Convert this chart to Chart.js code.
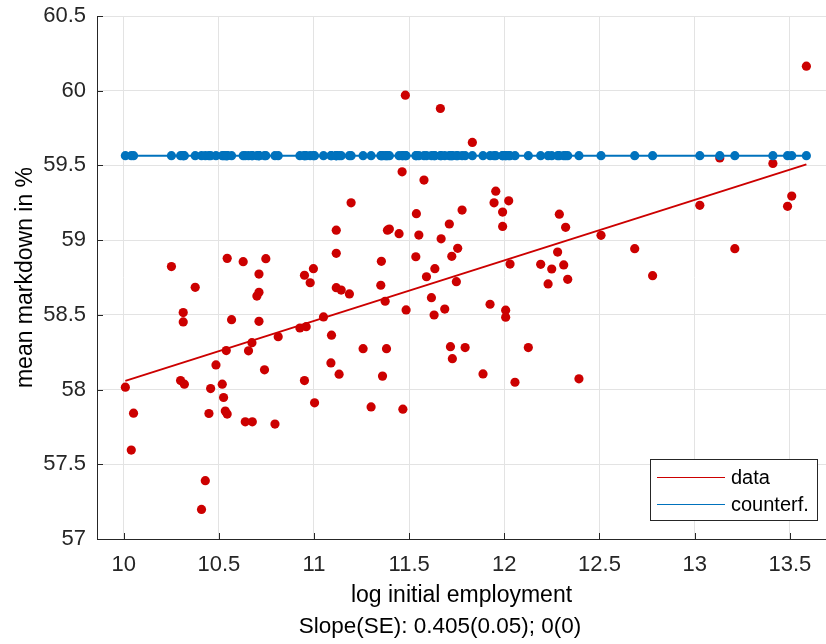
<!DOCTYPE html>
<html>
<head>
<meta charset="utf-8">
<script src="https://cdn.jsdelivr.net/npm/chart.js@4.4.1/dist/chart.umd.min.js"></script>
<style>
  html, body { margin: 0; padding: 0; background: #ffffff; }
  #wrap { width: 826px; height: 644px; }
</style>
</head>
<body>
<div id="wrap"><canvas id="c" width="826" height="644"></canvas></div>
<script>
// ---- data ----
const employment = [
  10.009, 10.040, 10.052, 10.251, 10.299, 10.313, 10.313, 10.319, 10.376, 10.409,
  10.429, 10.448, 10.457, 10.485, 10.518, 10.525, 10.534, 10.539, 10.544, 10.544,
  10.567, 10.628, 10.639, 10.656, 10.674, 10.676, 10.700, 10.711, 10.711, 10.711,
  10.740, 10.747, 10.795, 10.812, 10.926, 10.950, 10.950, 10.959, 10.980, 10.997,
  11.003, 11.050, 11.089, 11.092, 11.117, 11.117, 11.117, 11.132, 11.143, 11.186,
  11.195, 11.258, 11.300, 11.351, 11.354, 11.360, 11.374, 11.381, 11.386, 11.396,
  11.447, 11.463, 11.467, 11.480, 11.484, 11.535, 11.538, 11.551, 11.578, 11.591,
  11.617, 11.631, 11.635, 11.664, 11.668, 11.687, 11.711, 11.717, 11.724, 11.727,
  11.748, 11.755, 11.778, 11.794, 11.832, 11.888, 11.925, 11.946, 11.955, 11.991,
  11.991, 12.007, 12.007, 12.023, 12.030, 12.056, 12.126, 12.191, 12.230, 12.249,
  12.280, 12.289, 12.312, 12.322, 12.333, 12.392, 12.508, 12.685, 12.779, 13.027,
  13.132, 13.211, 13.411, 13.488, 13.510, 13.587
];
const markdown = [
  58.016, 57.595, 57.842, 58.823, 58.060, 58.515, 58.453, 58.036, 58.684, 57.198,
  57.390, 57.840, 58.007, 58.165, 58.036, 57.947, 57.856, 58.261, 57.836, 58.878,
  58.468, 58.856, 57.784, 58.259, 58.314, 57.784, 58.626, 58.651, 58.457, 58.773,
  58.132, 58.876, 57.769, 58.354, 58.412, 58.765, 58.060, 58.421, 58.715, 58.809,
  57.911, 58.486, 58.178, 58.364, 59.067, 58.912, 58.682, 58.103, 58.666, 58.640,
  59.250, 58.274, 57.884, 58.698, 58.858, 58.090, 58.591, 58.274, 59.067, 59.074,
  59.043, 59.457, 57.869, 59.970, 58.533, 58.889, 59.177, 59.034, 59.402, 58.755,
  58.615, 58.499, 58.809, 59.881, 59.009, 58.539, 59.108, 58.287, 58.892, 58.207,
  58.722, 58.945, 59.201, 58.281, 59.654, 58.105, 58.571, 59.250, 59.328, 59.188,
  59.092, 58.531, 58.484, 59.263, 58.840, 58.049, 58.281, 58.838, 58.707, 58.807,
  58.920, 59.174, 58.834, 59.086, 58.738, 58.072, 59.032, 58.943, 58.762, 59.233,
  59.550, 58.943, 59.513, 59.226, 59.295, 60.164
];
const counterfactual = [
  59.565, 59.565, 59.565, 59.565, 59.565, 59.565, 59.565, 59.565, 59.565, 59.565,
  59.565, 59.565, 59.565, 59.565, 59.565, 59.565, 59.565, 59.565, 59.565, 59.565,
  59.565, 59.565, 59.565, 59.565, 59.565, 59.565, 59.565, 59.565, 59.565, 59.565,
  59.565, 59.565, 59.565, 59.565, 59.565, 59.565, 59.565, 59.565, 59.565, 59.565,
  59.565, 59.565, 59.565, 59.565, 59.565, 59.565, 59.565, 59.565, 59.565, 59.565,
  59.565, 59.565, 59.565, 59.565, 59.565, 59.565, 59.565, 59.565, 59.565, 59.565,
  59.565, 59.565, 59.565, 59.565, 59.565, 59.565, 59.565, 59.565, 59.565, 59.565,
  59.565, 59.565, 59.565, 59.565, 59.565, 59.565, 59.565, 59.565, 59.565, 59.565,
  59.565, 59.565, 59.565, 59.565, 59.565, 59.565, 59.565, 59.565, 59.565, 59.565,
  59.565, 59.565, 59.565, 59.565, 59.565, 59.565, 59.565, 59.565, 59.565, 59.565,
  59.565, 59.565, 59.565, 59.565, 59.565, 59.565, 59.565, 59.565, 59.565, 59.565,
  59.565, 59.565, 59.565, 59.565, 59.565, 59.565
];
const fitX = [10.009, 13.587];
const fitY = [58.058, 59.507];
const xTicks = [10, 10.5, 11, 11.5, 12, 12.5, 13, 13.5];
const yTicks = [57, 57.5, 58, 58.5, 59, 59.5, 60, 60.5];
const seriesLabels = ['data', 'counterf.'];
const xTitle = 'log initial employment';
const yTitle = 'mean markdown in %';
const noteText = 'Slope(SE): 0.405(0.05); 0(0)';

// ---- styling ----
const RED = '#CC0000';
const BLUE = '#0072BD';
const AXIS = '#262626';
const GRID = '#e3e3e3';
const FONT = "'Liberation Sans', Arial, Helvetica, sans-serif";

const redPts = employment.map((x, i) => ({ x: x, y: markdown[i] }));
const bluePts = employment.map((x, i) => ({ x: x, y: counterfactual[i] }));
const fitPts = fitX.map((x, i) => ({ x: x, y: fitY[i] }));

const innerTicks = {
  id: 'innerTicks',
  afterDraw(chart) {
    const ctx = chart.ctx, a = chart.chartArea;
    const xs = chart.scales.x, ys = chart.scales.y;
    ctx.save();
    ctx.strokeStyle = AXIS;
    ctx.lineWidth = 1;
    ctx.beginPath();
    xTicks.forEach(v => {
      const px = Math.round(xs.getPixelForValue(v)) + 0.5;
      ctx.moveTo(px, a.bottom); ctx.lineTo(px, a.bottom - 6);
    });
    yTicks.forEach(v => {
      const py = Math.round(ys.getPixelForValue(v)) + 0.5;
      ctx.moveTo(a.left, py); ctx.lineTo(a.left + 6, py);
    });
    ctx.stroke();
    ctx.restore();
  }
};

const boxLegend = {
  id: 'boxLegend',
  afterDraw(chart) {
    const ctx = chart.ctx;
    const x0 = 650.5, y0 = 459.5, w = 167, h = 61;
    ctx.save();
    ctx.fillStyle = '#ffffff';
    ctx.fillRect(x0, y0, w, h);
    ctx.strokeStyle = AXIS;
    ctx.lineWidth = 1;
    ctx.strokeRect(x0, y0, w, h);
    const rows = [
      { label: seriesLabels[0], color: RED, y: 477 },
      { label: seriesLabels[1], color: BLUE, y: 504 }
    ];
    ctx.font = '20px ' + FONT;
    ctx.textBaseline = 'middle';
    ctx.textAlign = 'left';
    rows.forEach(r => {
      ctx.strokeStyle = r.color;
      ctx.lineWidth = 1.2;
      ctx.beginPath();
      ctx.moveTo(657, r.y + 0.5); ctx.lineTo(725, r.y + 0.5);
      ctx.stroke();
      ctx.fillStyle = '#000000';
      ctx.fillText(r.label, 731, r.y + 1);
    });
    ctx.restore();
  }
};

const bottomNote = {
  id: 'bottomNote',
  afterDraw(chart) {
    const ctx = chart.ctx;
    ctx.save();
    ctx.font = '22.5px ' + FONT;
    ctx.fillStyle = '#000000';
    ctx.textAlign = 'center';
    ctx.textBaseline = 'alphabetic';
    ctx.fillText(noteText, 440, 633);
    ctx.restore();
  }
};

new Chart(document.getElementById('c'), {
  type: 'scatter',
  data: {
    datasets: [
      {
        label: seriesLabels[1],
        data: bluePts,
        showLine: true,
        borderColor: BLUE,
        backgroundColor: BLUE,
        borderWidth: 2,
        pointRadius: 4.6,
        pointBorderWidth: 0,
        pointHoverRadius: 4.6
      },
      {
        label: seriesLabels[0],
        data: fitPts,
        showLine: true,
        borderColor: RED,
        borderWidth: 2,
        pointRadius: 0,
        pointHoverRadius: 0
      },
      {
        label: seriesLabels[0] + ' points',
        data: redPts,
        showLine: false,
        backgroundColor: RED,
        borderColor: RED,
        pointRadius: 4.6,
        pointBorderWidth: 0,
        pointHoverRadius: 4.6
      }
    ]
  },
  options: {
    responsive: false,
    animation: false,
    events: [],
    layout: { autoPadding: false, padding: { top: 16, right: 0, left: 0, bottom: 0 } },
    plugins: {
      legend: { display: false },
      tooltip: { enabled: false },
      title: { display: false }
    },
    scales: {
      x: {
        type: 'linear',
        min: 9.86,
        max: 13.69,
        afterBuildTicks(scale) { scale.ticks = xTicks.map(v => ({ value: v })); },
        afterFit(scale) { scale.height = 105; scale.paddingLeft = 0; scale.paddingRight = 0; },
        ticks: {
          color: AXIS,
          font: { family: FONT, size: 22 },
          padding: 13,
          maxRotation: 0,
          autoSkip: false,
          callback: v => String(v)
        },
        grid: { color: GRID, lineWidth: 1, drawTicks: false },
        border: { display: true, color: AXIS, width: 1 },
        title: {
          display: true,
          text: xTitle,
          color: '#000000',
          font: { family: FONT, size: 23 },
          padding: { top: 0, bottom: 35 }
        }
      },
      y: {
        type: 'linear',
        min: 57,
        max: 60.5,
        afterBuildTicks(scale) { scale.ticks = yTicks.map(v => ({ value: v })); },
        afterFit(scale) { scale.width = 97; scale.paddingTop = 0; scale.paddingBottom = 0; },
        ticks: {
          color: AXIS,
          font: { family: FONT, size: 22 },
          padding: 11,
          autoSkip: false,
          callback: v => String(v)
        },
        grid: { color: GRID, lineWidth: 1, drawTicks: false },
        border: { display: true, color: AXIS, width: 1 },
        title: {
          display: true,
          text: yTitle,
          color: '#000000',
          font: { family: FONT, size: 23 },
          padding: { top: 12, bottom: 0 }
        }
      }
    }
  },
  plugins: [innerTicks, boxLegend, bottomNote]
});
</script>
</body>
</html>
